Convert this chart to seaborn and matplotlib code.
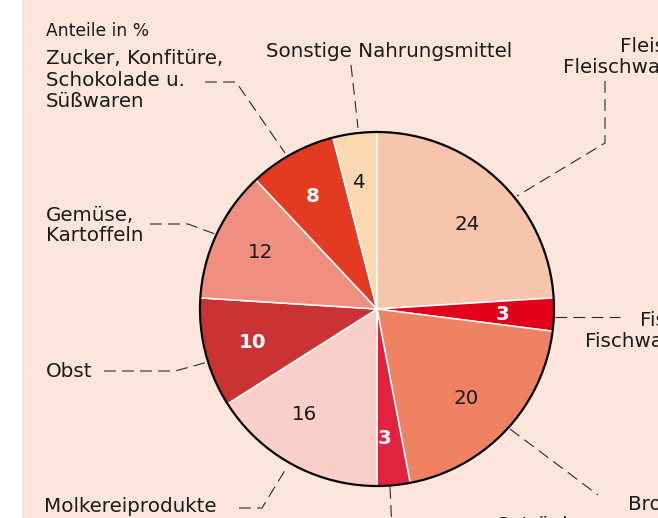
import matplotlib
matplotlib.use("Agg")
import matplotlib.pyplot as plt
from matplotlib.patches import Rectangle, Circle
import seaborn as sns

# ---- data ----
categories = ["Fleisch, Fleischwaren", "Fisch, Fischwaren", "Brot, Getreideerzeugnisse",
              "Getränke", "Molkereiprodukte", "Obst", "Gemüse, Kartoffeln",
              "Zucker, Konfitüre, Schokolade u. Süßwaren", "Sonstige Nahrungsmittel"]
values = [24, 3, 20, 3, 16, 10, 12, 8, 4]
colors = ["#f7c5ac", "#e2001a", "#ee8262", "#e2233f", "#f9cfc8",
          "#cb3233", "#f08e80", "#e33b22", "#fcd8b2"]
value_text_colors = ["#1a1a1a", "white", "#1a1a1a", "white", "#1a1a1a",
                     "white", "#1a1a1a", "white", "#1a1a1a"]
value_text_bold = [False, True, False, True, False, True, False, True, False]

# layout: centres of the value labels (pixels from top-left)
value_label_pos = [(467, 224), (503, 315), (466, 398), (385, 439), (305, 414),
                   (253, 343), (261, 253), (313, 196), (358, 183)]

W, H = 658, 518
sns.set_theme(style="white")
plt.rcParams["font.family"] = ["DejaVu Sans"]
plt.rcParams["lines.scale_dashes"] = False

FS = 14.3
INK = "#1a1a1a"
PEACH = "#fce6dc"

fig = plt.figure(figsize=(W / 100, H / 100), dpi=100, facecolor="white")
fig.add_artist(Rectangle((22 / W, 0), 1, 1, transform=fig.transFigure,
                         facecolor=PEACH, edgecolor="none", zorder=0))
ax = fig.add_axes([22 / W, 0, 1 - 22 / W, 1])
ax.patch.set_alpha(0)

cx, cy, R = 377, H - 309, 177

wedges, texts, autotexts = ax.pie(
    values, colors=colors, startangle=90, counterclock=False,
    center=(cx, cy), radius=R,
    autopct=lambda p: f"{p:.0f}", pctdistance=0.72,
    wedgeprops=dict(edgecolor="white", linewidth=1.1),
    textprops=dict(fontsize=FS),
)
for t, c, b, (px, py) in zip(autotexts, value_text_colors, value_text_bold, value_label_pos):
    t.set_color(c)
    t.set_fontweight("bold" if b else "normal")
    t.set_position((px, H - py))
    t.set_va("center")
    t.set_ha("center")

ax.add_patch(Circle((cx, cy), R, facecolor="none", edgecolor="black",
                    linewidth=1.6, zorder=5))

ax.set_frame_on(False)
ax.set_xticks([])
ax.set_yticks([])
ax.set_xlim(22, W)
ax.set_ylim(0, H)
ax.set_aspect("auto")


def txt(x, y, s, size=FS, **kw):
    ax.text(x, H - y, s, fontsize=size, color=INK, va="baseline", ha="left",
            clip_on=False, **kw)


def leader(pts):
    xs = [p[0] for p in pts]
    ys = [H - p[1] for p in pts]
    ax.plot(xs, ys, color="#2a2a2a", linewidth=0.8, linestyle=(0, (8.5, 4.5)),
            clip_on=False, zorder=6)


txt(46, 36, "Anteile in %", size=12.3)

txt(46, 64, "Zucker, Konfitüre,")
txt(46, 86, "Schokolade u.")
txt(46, 107, "Süßwaren")
leader([(205, 82), (236, 82), (285, 153)])

txt(266, 57, "Sonstige Nahrungsmittel")
leader([(351, 65), (358, 128)])

txt(620, 52, "Fleisch,")
txt(563, 73, "Fleischwaren")
leader([(605, 81), (605, 143), (517, 196)])

txt(640, 326, "Fisch,")
txt(585, 347, "Fischwaren")
leader([(555, 317), (620, 317)])

txt(628, 510, "Brot,")
leader([(510, 429), (598, 495)])

txt(495, 531, "Getränke")
leader([(390, 487), (392, 530)])

txt(44, 512, "Molkereiprodukte")
leader([(239, 508), (262, 508), (287, 467)])

txt(46, 377, "Obst")
leader([(104, 371), (175, 371), (208, 362)])

txt(46, 221, "Gemüse,")
txt(46, 241, "Kartoffeln")
leader([(150, 224), (188, 224), (215, 234)])

fig.savefig("out.png", dpi=100, facecolor=fig.get_facecolor())
